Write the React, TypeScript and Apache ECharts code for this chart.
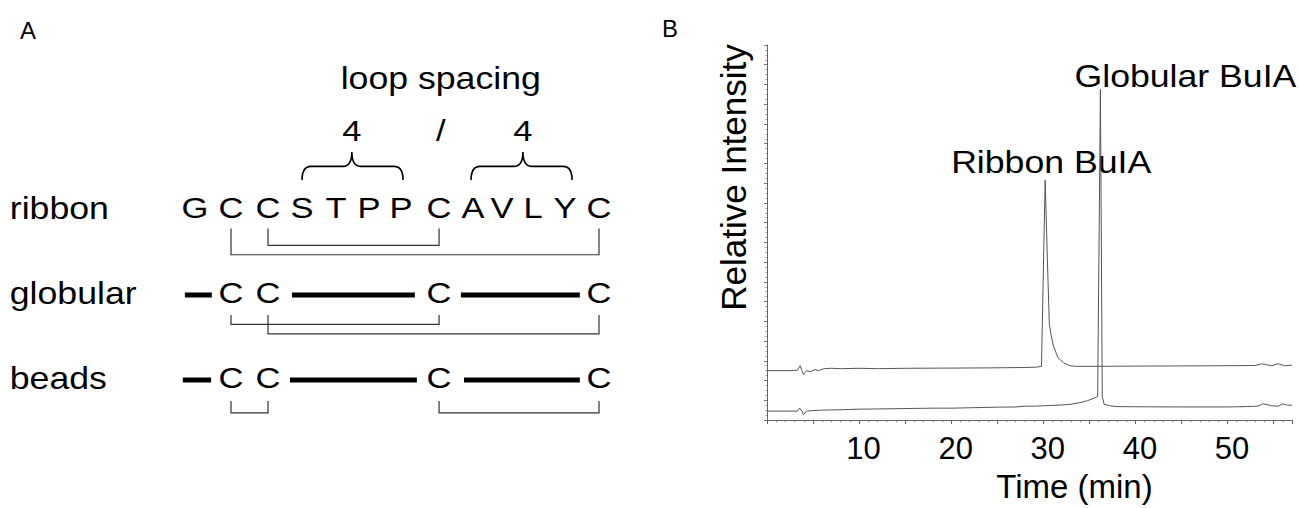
import React, { useEffect, useRef } from 'react';
import * as echarts from 'echarts';

// ---------- Panel A: disulfide connectivity diagram ----------
const rowNames = ['ribbon', 'globular', 'beads'];
const ribbonSeq = ['G', 'C', 'C', 'S', 'T', 'P', 'P', 'C', 'A', 'V', 'L', 'Y', 'C'];
// residue positions along the sequence (residue units)
const residuePos = [0, 1.07, 2.17, 3.18, 4.19, 5.17, 6.12, 7.25, 8.26, 9.12, 10.04, 10.99, 12.0];
const cysResidues = [1, 2, 7, 12];
// thick bars (backbone segments) for globular and beads rows: [from, to]
const globularBars = [[-0.3, 0.5], [2.88, 6.53], [7.9, 11.43]];
const beadsBars = [[-0.36, 0.48], [2.82, 6.59], [7.99, 11.43]];
// disulfide bonds: [cysA, cysB, depth below row]
const ribbonBonds = [[0, 3, 0.55], [1, 2, 0.44]];
const globularBonds = [[0, 2, 0.37], [1, 3, 0.48]];
const beadsBonds = [[0, 1, 0.41], [2, 3, 0.41]];
const bondTop = [0.24, 0.26, 0.27];
// loop braces: [from, to, peak]
const loopBraces = [[3.18, 6.18, 4.66], [8.2, 11.2, 9.74]];
const loopCounts = ['4', '/', '4'];
const loopCountPos = [4.66, 7.3, 9.74];
const loopTitle = 'loop spacing';
const loopTitlePos = 7.3;
const panelLetters = ['A', 'B'];

// ---------- Panel B: chromatograms (time min, relative intensity) ----------
const ribbonTrace = [
  [0, 2.5], [2.5, 2.5], [3.3, 2.52], [3.6, 2.75], [3.75, 2.55], [3.95, 2.3], [4.3, 2.5], [4.7, 2.45],
  [5.2, 2.55], [5.6, 2.5], [6.2, 2.6], [7, 2.62], [8, 2.6], [10, 2.62], [12, 2.6], [15, 2.62],
  [20, 2.63], [24, 2.64], [26, 2.65], [28, 2.66], [29.3, 2.68], [29.8, 2.72], [30.2, 12.15],
  [30.45, 8], [30.65, 4.9], [30.85, 4.3], [31.1, 3.75], [31.6, 3.15], [32.2, 2.9], [32.9, 2.75],
  [33.5, 2.72], [36, 2.72], [40, 2.73], [45, 2.74], [50, 2.75], [53, 2.76], [53.7, 2.85],
  [54.2, 2.8], [54.8, 2.75], [55.5, 2.85], [56.2, 2.75], [57, 2.78],
];
const globularTrace = [
  [0, 0.45], [3.3, 0.45], [3.55, 0.6], [3.8, 0.45], [3.95, 0.28], [4.3, 0.45], [5, 0.48], [6, 0.5],
  [8, 0.52], [10, 0.55], [12, 0.56], [15, 0.58], [18, 0.6], [20, 0.6], [22, 0.62], [25, 0.65],
  [27, 0.66], [28, 0.7], [29, 0.7], [30, 0.72], [31, 0.74], [32, 0.76], [33, 0.8], [34, 0.88],
  [34.8, 0.98], [35.5, 1.1], [35.9, 1.2], [36.2, 16.75], [36.4, 1.2], [36.6, 0.8], [37.2, 0.72],
  [38, 0.68], [40, 0.67], [45, 0.66], [50, 0.66], [52, 0.68], [53.3, 0.7], [53.8, 0.82],
  [54.3, 0.78], [54.8, 0.72], [55.5, 0.7], [56, 0.82], [56.5, 0.75], [57, 0.75],
];
const peakLabels = ['Ribbon BuIA', 'Globular BuIA'];
const peakPoints = [[30.2, 12.15], [36.2, 16.75]];
const timeTickLabels = [10, 20, 30, 40, 50];

const FONT = '"Liberation Sans", Arial, Helvetica, sans-serif';
const SX = 1.15; // the original lettering is slightly wide

function textEl(x: number, y: number, text: string, size: number, align = 'center', vAlign = 'middle', sx = SX) {
  return {
    type: 'text',
    x,
    y,
    scaleX: sx,
    style: { text, fontSize: size, fontFamily: FONT, fill: '#000', align, verticalAlign: vAlign },
  };
}

export default function App() {
  const ref = useRef<HTMLDivElement>(null);

  useEffect(() => {
    if (!ref.current) return;
    const chart = echarts.init(ref.current, null, { renderer: 'svg' });

    const aAxis = { xAxisIndex: 0, yAxisIndex: 0 };

    const rowLabelSeries = {
      type: 'custom', ...aAxis, silent: true,
      data: rowNames.map((_, i) => [-5.5, i]),
      renderItem: (params: any, api: any) => {
        const p = api.coord([api.value(0), api.value(1)]);
        return textEl(p[0], p[1], rowNames[params.dataIndex], 31, 'left');
      },
    };

    const lettersSeries = {
      type: 'custom', ...aAxis, silent: true,
      data: [
        ...ribbonSeq.map((_, i) => [residuePos[i], 0]),
        ...cysResidues.map((r) => [residuePos[r], 1]),
        ...cysResidues.map((r) => [residuePos[r], 2]),
      ],
      renderItem: (params: any, api: any) => {
        const idx = params.dataIndex;
        const letter = idx < ribbonSeq.length ? ribbonSeq[idx] : 'C';
        const p = api.coord([api.value(0), api.value(1)]);
        return textEl(p[0], p[1], letter, 30);
      },
    };

    const barsSeries = {
      type: 'custom', ...aAxis, silent: true,
      data: [
        ...globularBars.map((b) => [b[0], b[1], 1]),
        ...beadsBars.map((b) => [b[0], b[1], 2]),
      ],
      renderItem: (params: any, api: any) => {
        const a = api.coord([api.value(0), api.value(2)]);
        const b = api.coord([api.value(1), api.value(2)]);
        return {
          type: 'line',
          shape: { x1: a[0], y1: a[1] + 2, x2: b[0], y2: b[1] + 2 },
          style: { stroke: '#000', lineWidth: 5 },
        };
      },
    };

    const bondData: number[][] = [];
    [ribbonBonds, globularBonds, beadsBonds].forEach((bonds, row) => {
      bonds.forEach((b) => {
        bondData.push([residuePos[cysResidues[b[0]]], residuePos[cysResidues[b[1]]], row, row + bondTop[row], row + b[2]]);
      });
    });
    const bondSeries = {
      type: 'custom', ...aAxis, silent: true,
      data: bondData,
      renderItem: (params: any, api: any) => {
        const x1 = api.value(0), x2 = api.value(1), top = api.value(3), bot = api.value(4);
        const p1 = api.coord([x1, top]);
        const p2 = api.coord([x1, bot]);
        const p3 = api.coord([x2, bot]);
        const p4 = api.coord([x2, top]);
        return {
          type: 'polyline',
          shape: { points: [p1, p2, p3, p4] },
          style: { stroke: '#333', lineWidth: 1.2, fill: null },
        };
      },
    };

    const braceSeries = {
      type: 'custom', ...aAxis, silent: true,
      data: loopBraces.map((b) => [b[0], b[1], b[2]]),
      renderItem: (params: any, api: any) => {
        const x1 = api.coord([api.value(0), -0.33]);
        const x2 = api.coord([api.value(1), -0.33]);
        const pk = api.coord([api.value(2), -0.66]);
        const ym = api.coord([0, -0.49])[1];
        const yb = x1[1];
        const r = 9;
        const d = [
          `M${x1[0]},${yb}`,
          `Q${x1[0]},${ym} ${x1[0] + r},${ym}`,
          `L${pk[0] - r},${ym}`,
          `Q${pk[0]},${ym} ${pk[0]},${pk[1]}`,
          `Q${pk[0]},${ym} ${pk[0] + r},${ym}`,
          `L${x2[0] - r},${ym}`,
          `Q${x2[0]},${ym} ${x2[0]},${yb}`,
        ].join(' ');
        return {
          type: 'path',
          shape: { pathData: d },
          style: { stroke: '#000', lineWidth: 1.6, fill: null },
        };
      },
    };

    const loopTextSeries = {
      type: 'custom', ...aAxis, silent: true,
      data: [[loopTitlePos, -1.53], ...loopCountPos.map((x) => [x, -0.91])],
      renderItem: (params: any, api: any) => {
        const p = api.coord([api.value(0), api.value(1)]);
        const i = params.dataIndex;
        if (i === 0) return textEl(p[0], p[1], loopTitle, 31);
        return textEl(p[0], p[1], loopCounts[i - 1], 30);
      },
    };

    const peakLabelSeries = {
      type: 'custom', xAxisIndex: 1, yAxisIndex: 1, silent: true,
      data: peakPoints,
      renderItem: (params: any, api: any) => {
        const p = api.coord([api.value(0), api.value(1)]);
        const i = params.dataIndex;
        const dx = i === 0 ? 6 : 85;
        const dy = i === 0 ? -2 : 2;
        return textEl(p[0] + dx, p[1] + dy, peakLabels[i], 31, 'center', 'bottom');
      },
    };

    const option = {
      animation: false,
      backgroundColor: '#fff',
      textStyle: { fontFamily: FONT },
      title: [
        {
          text: panelLetters[0], left: 20, top: 18, padding: 0,
          textStyle: { fontSize: 24, fontWeight: 'normal', color: '#000', fontFamily: FONT },
        },
        {
          text: panelLetters[1], left: 662, top: 16, padding: 0,
          textStyle: { fontSize: 24, fontWeight: 'normal', color: '#000', fontFamily: FONT },
        },
      ],
      grid: [
        { left: 9.8, top: 38, width: 639.7, height: 382.5 },
        { left: 767, top: 45, width: 525, height: 380 },
      ],
      xAxis: [
        { gridIndex: 0, type: 'value', min: -5.5, max: 13.5, show: false },
        {
          gridIndex: 1, type: 'value', min: 0, max: 57, interval: 5,
          axisLine: { show: true, onZero: false, lineStyle: { color: '#666', width: 1 } },
          axisTick: { show: true, length: 4, lineStyle: { color: '#666' } },
          minorTick: { show: true, splitNumber: 5, length: 2, lineStyle: { color: '#777' } },
          splitLine: { show: false },
          axisLabel: {
            fontSize: 31, color: '#000', fontFamily: FONT, margin: 13, padding: [0, 0, 0, 9],
            formatter: (v: number) => (timeTickLabels.indexOf(v) >= 0 ? String(v) : ''),
          },
          name: 'Time (min)', nameLocation: 'middle', nameGap: 50,
          nameTextStyle: { fontSize: 33, color: '#000', fontFamily: FONT, padding: [0, 0, 0, 90] },
        },
      ],
      yAxis: [
        { gridIndex: 0, type: 'value', min: -2, max: 2.5, inverse: true, show: false },
        {
          gridIndex: 1, type: 'value', min: 0, max: 19, interval: 1,
          axisLine: { show: true, onZero: false, lineStyle: { color: '#666', width: 1 } },
          axisTick: { show: true, length: 3, lineStyle: { color: '#777' } },
          minorTick: { show: true, splitNumber: 4, length: 1.5, lineStyle: { color: '#999' } },
          splitLine: { show: false },
          axisLabel: { show: false },
          name: 'Relative Intensity', nameLocation: 'middle', nameGap: 16,
          nameTextStyle: { fontSize: 35, color: '#000', fontFamily: FONT, padding: [0, 0, 0, 110] },
        },
      ],
      series: [
        rowLabelSeries,
        lettersSeries,
        barsSeries,
        bondSeries,
        braceSeries,
        loopTextSeries,
        {
          type: 'line', name: 'Ribbon BuIA', xAxisIndex: 1, yAxisIndex: 1,
          data: ribbonTrace, showSymbol: false, symbol: 'none',
          lineStyle: { color: '#555', width: 1 }, silent: true,
        },
        {
          type: 'line', name: 'Globular BuIA', xAxisIndex: 1, yAxisIndex: 1,
          data: globularTrace, showSymbol: false, symbol: 'none',
          lineStyle: { color: '#555', width: 1 }, silent: true,
        },
        peakLabelSeries,
      ],
    };

    chart.setOption(option as any);
    return () => chart.dispose();
  }, []);

  return (
    <div
      ref={ref}
      style={{ position: 'absolute', left: 0, top: 0, width: 1299, height: 508, background: '#fff' }}
    />
  );
}
